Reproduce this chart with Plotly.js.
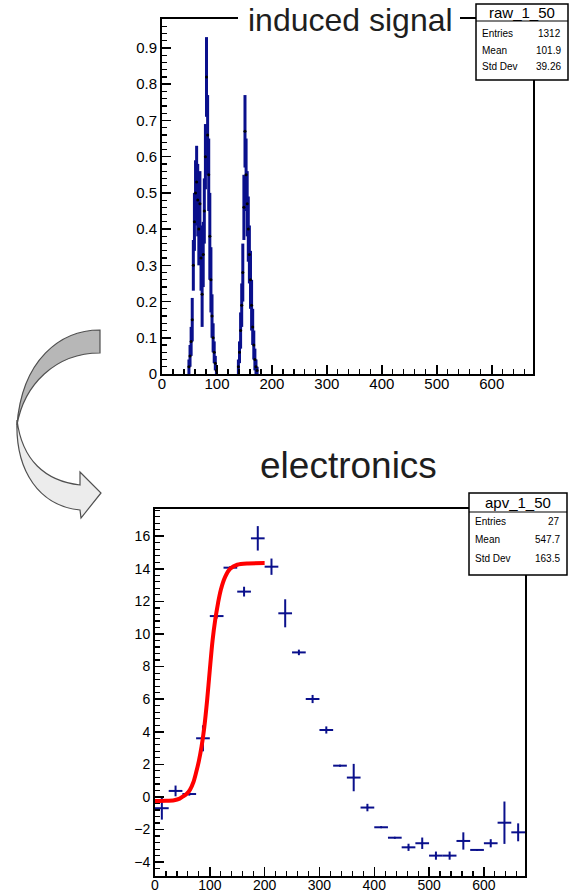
<!DOCTYPE html>
<html>
<head>
<meta charset="utf-8">
<script src="https://cdn.plot.ly/plotly-3.0.1.min.js"></script>
<style>
  html, body { margin: 0; padding: 0; background: #ffffff; }
  #chart { width: 576px; height: 892px; }
</style>
</head>
<body>
<div id="chart"></div>
<script>
// ---- raw_1_50 : induced signal (2 ns bins) ----
const rawCenters = [49, 51, 53, 55, 57, 59, 61, 63, 65, 67, 69, 71, 73, 75, 77, 79, 81, 83, 85, 87, 89, 91, 93, 95, 97, 99,
                    139, 141, 143, 145, 147, 149, 151, 153, 155, 157, 159, 161, 163, 165, 167, 169, 171, 173];
const rawValues = [0.02, 0.05, 0.09, 0.15, 0.30, 0.42, 0.50, 0.53, 0.48, 0.40, 0.47, 0.32, 0.22, 0.33, 0.45, 0.60, 0.82, 0.66, 0.55, 0.38, 0.26, 0.16, 0.10, 0.06, 0.03, 0.01,
                   0.02, 0.06, 0.12, 0.19, 0.28, 0.46, 0.67, 0.55, 0.47, 0.40, 0.33, 0.26, 0.19, 0.13, 0.08, 0.04, 0.02, 0.01];
const rawErrors = [0.02, 0.03, 0.04, 0.06, 0.07, 0.08, 0.09, 0.10, 0.10, 0.10, 0.09, 0.09, 0.09, 0.09, 0.09, 0.09, 0.11, 0.11, 0.10, 0.12, 0.09, 0.06, 0.04, 0.03, 0.02, 0.01,
                   0.02, 0.03, 0.05, 0.06, 0.08, 0.09, 0.10, 0.10, 0.09, 0.09, 0.08, 0.08, 0.07, 0.05, 0.04, 0.03, 0.02, 0.01];

// ---- apv_1_50 : electronics response (25 ns bins) ----
const apvCenters = [12.5, 37.5, 62.5, 87.5, 112.5, 137.5, 162.5, 187.5, 212.5, 237.5, 262.5, 287.5, 312.5, 337.5,
                    362.5, 387.5, 412.5, 437.5, 462.5, 487.5, 512.5, 537.5, 562.5, 587.5, 612.5, 637.5, 662.5];
const apvValues = [-0.69, 0.37, 0.18, 3.6, 11.1, 14.07, 12.6, 15.87, 14.13, 11.27, 8.87, 6.01, 4.11, 1.92,
                   1.19, -0.65, -1.86, -2.5, -3.09, -2.84, -3.6, -3.6, -2.7, -3.25, -2.84, -1.58, -2.17];
const apvErrors = [0.7, 0.33, 0.1, 0.8, 0.15, 0.1, 0.3, 0.75, 0.5, 0.86, 0.17, 0.25, 0.22, 0.05,
                   0.84, 0.23, 0.05, 0.05, 0.22, 0.35, 0.25, 0.25, 0.53, 0.05, 0.25, 1.3, 0.55];
const apvHalfBin = 12.5;

// ---- fitted rising edge ----
const fitX = [0, 20, 35, 45, 52, 58, 64, 70, 75, 80, 85, 90, 95, 100, 105, 110, 115, 120, 128, 137, 150, 170, 200];
const fitY = [-0.25, -0.24, -0.2, -0.1, 0.05, 0.2, 0.45, 0.9, 1.5, 2.2, 3.1, 4.3, 5.9, 7.8, 9.6, 10.9, 11.9, 12.7, 13.5, 14.0, 14.25, 14.33, 14.35];

// ---- stats box texts ----
const rawStats = { name: 'raw_1_50', labels: ['Entries', 'Mean', 'Std Dev'], values: ['1312', '101.9', '39.26'] };
const apvStats = { name: 'apv_1_50', labels: ['Entries', 'Mean', 'Std Dev'], values: ['27', '547.7', '163.5'] };

const W = 576, H = 892;
const fx = p => p / W;
const fy = p => 1 - p / H;
const NAVY = 'rgb(10,16,140)';
const FONT = 'Liberation Sans, Arial, Helvetica, sans-serif';

const traces = [
  {
    x: rawCenters, y: rawValues, xaxis: 'x', yaxis: 'y',
    type: 'scatter', mode: 'markers',
    marker: { color: 'black', size: 3 },
    error_y: { type: 'data', array: rawErrors, visible: true, color: NAVY, thickness: 3, width: 0 },
    hoverinfo: 'skip'
  },
  {
    x: apvCenters, y: apvValues, xaxis: 'x2', yaxis: 'y2',
    type: 'scatter', mode: 'markers',
    marker: { color: NAVY, size: 2 },
    error_x: { type: 'constant', value: apvHalfBin, visible: true, color: NAVY, thickness: 2, width: 0 },
    error_y: { type: 'data', array: apvErrors, visible: true, color: NAVY, thickness: 2, width: 0 },
    hoverinfo: 'skip'
  },
  {
    x: fitX, y: fitY, xaxis: 'x2', yaxis: 'y2',
    type: 'scatter', mode: 'lines',
    line: { color: 'rgb(255,0,0)', width: 4, shape: 'spline', smoothing: 0.8 },
    hoverinfo: 'skip'
  }
];

function axisStyle(fontSize) {
  return {
    showline: true, linecolor: 'black', linewidth: 2, mirror: true,
    ticks: 'inside', ticklen: 9, tickwidth: 1.5, tickcolor: 'black',
    showgrid: false, zeroline: false,
    tickfont: { family: FONT, size: fontSize, color: 'black' }
  };
}
const minorStyle = { ticks: 'inside', ticklen: 5, tickwidth: 1.2, tickcolor: 'black', showgrid: false };

// stats box: frame, header line and text rows
function statsBox(st, x0, y0, x1, y1, ySep, rowYs) {
  const shapes = [
    { type: 'rect', xref: 'paper', yref: 'paper', x0: fx(x0), x1: fx(x1), y0: fy(y1), y1: fy(y0),
      fillcolor: 'white', line: { color: 'black', width: 1.5 }, layer: 'above' },
    { type: 'line', xref: 'paper', yref: 'paper', x0: fx(x0), x1: fx(x1), y0: fy(ySep), y1: fy(ySep),
      line: { color: 'black', width: 1.2 }, layer: 'above' }
  ];
  const ann = [
    { xref: 'paper', yref: 'paper', x: fx((x0 + x1) / 2), y: fy((y0 + ySep) / 2), xanchor: 'center', yanchor: 'middle',
      text: st.name, showarrow: false, font: { family: FONT, size: 15, color: 'black' } }
  ];
  st.labels.forEach((lab, i) => {
    ann.push({ xref: 'paper', yref: 'paper', x: fx(x0 + 4), y: fy(rowYs[i]), xanchor: 'left', yanchor: 'middle',
      text: lab, showarrow: false, font: { family: FONT, size: 10, color: 'black' } });
    ann.push({ xref: 'paper', yref: 'paper', x: fx(x1 - 5), y: fy(rowYs[i]), xanchor: 'right', yanchor: 'middle',
      text: st.values[i], showarrow: false, font: { family: FONT, size: 10, color: 'black' } });
  });
  return { shapes, ann };
}

const box1 = statsBox(rawStats, 476, 4, 568, 80, 21, [33, 50, 67]);
const box2 = statsBox(apvStats, 469, 493, 567, 575, 512, [521, 539, 558]);

// curved arrow between the two panels, built in page pixels
function pathPx(cmds) {
  return cmds.map(c => {
    const op = c[0];
    const pts = [];
    for (let i = 1; i < c.length; i += 2) pts.push(fx(c[i]).toFixed(5) + ',' + fy(c[i + 1]).toFixed(5));
    return op + pts.join(' ');
  }).join(' ') + ' Z';
}
const arrowBack = pathPx([
  ['M', 100, 330],
  ['C', 60, 330, 22, 360, 17, 425],
  ['C', 24, 385, 55, 353, 100, 353]
]);
const arrowFront = pathPx([
  ['M', 17, 420],
  ['C', 15, 472, 40, 506, 80, 510],
  ['L', 81, 518],
  ['L', 101, 493],
  ['L', 80, 472],
  ['L', 80, 485],
  ['C', 45, 481, 22, 460, 17, 420]
]);

const shapes = [
  { type: 'path', xref: 'paper', yref: 'paper', path: arrowBack, fillcolor: 'rgb(183,183,183)',
    line: { color: 'rgb(80,80,80)', width: 1.2 }, layer: 'above' },
  { type: 'path', xref: 'paper', yref: 'paper', path: arrowFront, fillcolor: 'rgb(236,236,236)',
    line: { color: 'rgb(80,80,80)', width: 1.2 }, layer: 'above' },
  // white title pad interrupting the upper frame
  { type: 'rect', xref: 'paper', yref: 'paper', x0: fx(238), x1: fx(460), y0: fy(42), y1: fy(0),
    fillcolor: 'white', line: { width: 0 }, layer: 'above' },
  ...box1.shapes, ...box2.shapes
];

const annotations = [
  { xref: 'paper', yref: 'paper', x: fx(350), y: fy(20), xanchor: 'center', yanchor: 'middle',
    text: 'induced signal', showarrow: false, font: { family: FONT, size: 32, color: 'rgb(30,30,30)' } },
  { xref: 'paper', yref: 'paper', x: fx(348), y: fy(465), xanchor: 'center', yanchor: 'middle',
    text: 'electronics', showarrow: false, font: { family: FONT, size: 37, color: 'rgb(30,30,30)' } },
  ...box1.ann, ...box2.ann
];

const layout = {
  width: W, height: H,
  margin: { l: 0, r: 0, t: 0, b: 0 },
  paper_bgcolor: 'white', plot_bgcolor: 'white',
  showlegend: false,
  font: { family: FONT, color: 'black' },
  xaxis: Object.assign(axisStyle(15), {
    domain: [fx(162), fx(533)], range: [0, 675], anchor: 'y', tick0: 0, dtick: 100,
    ticklabelstandoff: -5,
    minor: Object.assign({ dtick: 20 }, minorStyle)
  }),
  yaxis: Object.assign(axisStyle(15), {
    domain: [fy(374), fy(19)], range: [0, 0.98], anchor: 'x', tick0: 0, dtick: 0.1,
    minor: Object.assign({ dtick: 0.02 }, minorStyle)
  }),
  xaxis2: Object.assign(axisStyle(14), {
    domain: [fx(155), fx(525)], range: [0, 675], anchor: 'y2', tick0: 0, dtick: 100,
    ticklabelstandoff: -5,
    minor: Object.assign({ dtick: 20 }, minorStyle)
  }),
  yaxis2: Object.assign(axisStyle(14), {
    domain: [fy(876), fy(509)], range: [-4.85, 17.67], anchor: 'x2', tick0: 0, dtick: 2,
    minor: Object.assign({ dtick: 0.4 }, minorStyle)
  }),
  shapes: shapes,
  annotations: annotations
};

Plotly.newPlot('chart', traces, layout, { staticPlot: true, displayModeBar: false });
</script>
</body>
</html>
